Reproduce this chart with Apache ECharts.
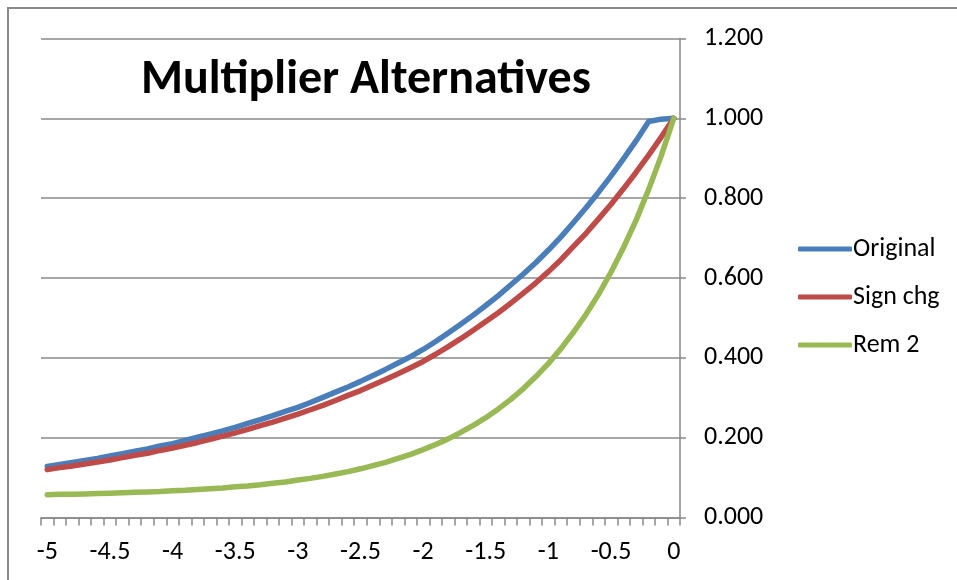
<!DOCTYPE html>
<html>
<head>
<meta charset="utf-8">
<script src="https://cdn.jsdelivr.net/npm/echarts@6/dist/echarts.min.js"></script>
<style>
  html, body { margin: 0; padding: 0; background: #fff; }
  #chart { width: 957px; height: 580px; }
</style>
</head>
<body>
<div id="chart"></div>
<script>
// x categories, step 0.1 from -5 to 0
const categories = [
  '-5', '-4.9', '-4.8', '-4.7', '-4.6', '-4.5', '-4.4', '-4.3', '-4.2', '-4.1',
  '-4', '-3.9', '-3.8', '-3.7', '-3.6', '-3.5', '-3.4', '-3.3', '-3.2', '-3.1',
  '-3', '-2.9', '-2.8', '-2.7', '-2.6', '-2.5', '-2.4', '-2.3', '-2.2', '-2.1',
  '-2', '-1.9', '-1.8', '-1.7', '-1.6', '-1.5', '-1.4', '-1.3', '-1.2', '-1.1',
  '-1', '-0.9', '-0.8', '-0.7', '-0.6', '-0.5', '-0.4', '-0.3', '-0.2', '-0.1',
  '0'
];

const original = [
  0.128, 0.133, 0.138, 0.143, 0.148, 0.154, 0.160, 0.166, 0.172, 0.179,
  0.185, 0.193, 0.201, 0.209, 0.217, 0.226, 0.236, 0.245, 0.255, 0.266,
  0.276, 0.288, 0.301, 0.314, 0.327, 0.341, 0.356, 0.371, 0.387, 0.403,
  0.421, 0.441, 0.462, 0.484, 0.507, 0.531, 0.556, 0.583, 0.610, 0.639,
  0.670, 0.703, 0.739, 0.776, 0.815, 0.856, 0.899, 0.944, 0.992, 0.998,
  1.000
];

const signChg = [
  0.120, 0.125, 0.129, 0.134, 0.139, 0.144, 0.150, 0.156, 0.161, 0.168,
  0.174, 0.181, 0.188, 0.196, 0.204, 0.212, 0.221, 0.230, 0.239, 0.249,
  0.259, 0.270, 0.281, 0.293, 0.306, 0.318, 0.332, 0.346, 0.360, 0.375,
  0.391, 0.409, 0.428, 0.448, 0.469, 0.491, 0.513, 0.537, 0.562, 0.588,
  0.616, 0.646, 0.679, 0.712, 0.748, 0.785, 0.824, 0.865, 0.908, 0.953,
  1.000
];

const rem2 = [
  0.057, 0.058, 0.058, 0.059, 0.060, 0.061, 0.062, 0.063, 0.064, 0.065,
  0.067, 0.068, 0.070, 0.072, 0.074, 0.077, 0.079, 0.082, 0.086, 0.089,
  0.094, 0.098, 0.103, 0.109, 0.115, 0.122, 0.130, 0.138, 0.148, 0.158,
  0.170, 0.183, 0.197, 0.213, 0.231, 0.250, 0.272, 0.296, 0.323, 0.353,
  0.386, 0.423, 0.464, 0.509, 0.559, 0.615, 0.677, 0.745, 0.822, 0.906,
  1.000
];

const yTicks = ['0.000', '0.200', '0.400', '0.600', '0.800', '1.000', '1.200'];

const FONT = 'Carlito, Lato, "Open Sans", sans-serif';
const GRID_COLOR = '#898989';

const chart = echarts.init(document.getElementById('chart'), null, { renderer: 'canvas' });

function lineSeries(name, data, color) {
  return {
    name: name,
    type: 'line',
    data: data,
    symbol: 'none',
    smooth: false,
    lineStyle: { color: color, width: 5.5, cap: 'round', join: 'round' },
    itemStyle: { color: color },
    emphasis: { disabled: true },
    animation: false
  };
}

chart.setOption({
  animation: false,
  backgroundColor: '#ffffff',
  title: {
    text: 'Multiplier Alternatives',
    left: 136,
    top: 52,
    textStyle: { fontFamily: FONT, fontWeight: 'bold', fontSize: 48, color: '#000' }
  },
  legend: {
    orient: 'vertical',
    left: 793,
    top: 231,
    icon: 'roundRect',
    itemWidth: 54,
    itemHeight: 5,
    itemGap: 22,
    textStyle: { fontFamily: FONT, fontSize: 26, color: '#000', padding: [0, 0, 0, -4] },
    data: ['Original', 'Sign chg', 'Rem 2']
  },
  graphic: [{
    type: 'rect',
    shape: { x: 8, y: 8, width: 1200, height: 1200 },
    style: { fill: 'none', stroke: GRID_COLOR, lineWidth: 2 },
    silent: true,
    z: -1
  }],
  grid: { left: 41, right: 277, top: 38.5, bottom: 62.5, containLabel: false },
  xAxis: {
    type: 'category',
    data: categories,
    boundaryGap: true,
    axisLine: { show: true, lineStyle: { color: GRID_COLOR, width: 1.5 } },
    axisTick: { show: true, interval: 0, alignWithLabel: false, length: 8, lineStyle: { color: GRID_COLOR, width: 1.5 } },
    axisLabel: {
      interval: 4,
      margin: 22,
      fontFamily: FONT,
      fontSize: 26,
      color: '#000'
    },
    splitLine: { show: false }
  },
  yAxis: {
    type: 'value',
    position: 'right',
    min: 0,
    max: 1.2,
    interval: 0.2,
    axisLine: { show: true, lineStyle: { color: GRID_COLOR, width: 1.5 } },
    axisTick: { show: true, length: 6, lineStyle: { color: GRID_COLOR, width: 1.5 } },
    axisLabel: {
      margin: 24,
      fontFamily: FONT,
      fontSize: 26,
      color: '#000',
      formatter: function (v) { return yTicks[Math.round(v / 0.2)]; }
    },
    splitLine: { show: true, lineStyle: { color: GRID_COLOR, width: 1.5 } }
  },
  series: [
    lineSeries('Original', original, '#4a7ebb'),
    lineSeries('Sign chg', signChg, '#be4b48'),
    lineSeries('Rem 2', rem2, '#98b954')
  ]
});
</script>
</body>
</html>
